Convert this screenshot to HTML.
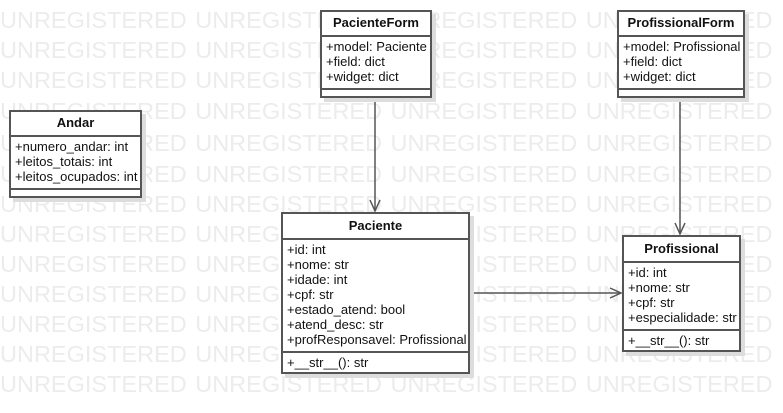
<!DOCTYPE html>
<html><head><style>
body{margin:0;width:783px;height:413px;background:#fff;position:relative;overflow:hidden;font-family:"Liberation Sans",sans-serif;}
.wm{position:absolute;left:0;font-size:23.5px;color:#ececec;white-space:nowrap;line-height:30px;word-spacing:2px;}
.box{position:absolute;background:#fff;border:2px solid #555;box-shadow:4px 4px 0 #ddd;box-sizing:border-box;font-size:13px;color:#111;}
.h{font-weight:bold;text-align:center;border-bottom:2px solid #555;box-sizing:border-box;}
.a{border-bottom:2px solid #555;padding:2px 0 0 4px;box-sizing:border-box;line-height:15px;white-space:nowrap;}
.m{padding:2px 0 0 4px;line-height:15px;white-space:nowrap;}
svg{position:absolute;left:0;top:0;}
</style></head><body>
<div class="wm" style="top:5px">UNREGISTERED UNREGISTERED UNREGISTERED UNREGISTERED</div>
<div class="wm" style="top:35px">UNREGISTERED UNREGISTERED UNREGISTERED UNREGISTERED</div>
<div class="wm" style="top:65px">UNREGISTERED UNREGISTERED UNREGISTERED UNREGISTERED</div>
<div class="wm" style="top:96px">UNREGISTERED UNREGISTERED UNREGISTERED UNREGISTERED</div>
<div class="wm" style="top:128px">UNREGISTERED UNREGISTERED UNREGISTERED UNREGISTERED</div>
<div class="wm" style="top:159px">UNREGISTERED UNREGISTERED UNREGISTERED UNREGISTERED</div>
<div class="wm" style="top:189px">UNREGISTERED UNREGISTERED UNREGISTERED UNREGISTERED</div>
<div class="wm" style="top:219px">UNREGISTERED UNREGISTERED UNREGISTERED UNREGISTERED</div>
<div class="wm" style="top:249px">UNREGISTERED UNREGISTERED UNREGISTERED UNREGISTERED</div>
<div class="wm" style="top:279px">UNREGISTERED UNREGISTERED UNREGISTERED UNREGISTERED</div>
<div class="wm" style="top:309px">UNREGISTERED UNREGISTERED UNREGISTERED UNREGISTERED</div>
<div class="wm" style="top:339px">UNREGISTERED UNREGISTERED UNREGISTERED UNREGISTERED</div>
<div class="wm" style="top:369px">UNREGISTERED UNREGISTERED UNREGISTERED UNREGISTERED</div>

<svg width="783" height="413">
<g stroke="#555" stroke-width="1.5" fill="none">
<line x1="375" y1="97" x2="375" y2="211"/><polyline points="370,200 375,211 380,200"/>
<line x1="680" y1="97" x2="680" y2="234"/><polyline points="675,223 680,234 685,223"/>
<line x1="469" y1="293" x2="621" y2="293"/><polyline points="610,288 621,293 610,298"/>
</g></svg>

<div class="box" style="left:320px;top:10px;width:112px;height:88px">
<div class="h" style="height:25px;line-height:22px">PacienteForm</div>
<div class="a" style="height:53px">+model: Paciente<br>+field: dict<br>+widget: dict</div></div>

<div class="box" style="left:617px;top:10px;width:128px;height:88px">
<div class="h" style="height:25px;line-height:22px">ProfissionalForm</div>
<div class="a" style="height:53px">+model: Profissional<br>+field: dict<br>+widget: dict</div></div>

<div class="box" style="left:9px;top:110px;width:133px;height:88px">
<div class="h" style="height:25px;line-height:22px">Andar</div>
<div class="a" style="height:53px">+numero_andar: int<br>+leitos_totais: int<br>+leitos_ocupados: int</div></div>

<div class="box" style="left:281px;top:212px;width:189px;height:162px">
<div class="h" style="height:26px;line-height:24px">Paciente</div>
<div class="a" style="height:113px">+id: int<br>+nome: str<br>+idade: int<br>+cpf: str<br>+estado_atend: bool<br>+atend_desc: str<br>+profResponsavel: Profissional</div>
<div class="m">+__str__(): str</div></div>

<div class="box" style="left:622px;top:235px;width:119px;height:117px">
<div class="h" style="height:26px;line-height:24px">Profissional</div>
<div class="a" style="height:68px">+id: int<br>+nome: str<br>+cpf: str<br>+especialidade: str</div>
<div class="m">+__str__(): str</div></div>
</body></html>
